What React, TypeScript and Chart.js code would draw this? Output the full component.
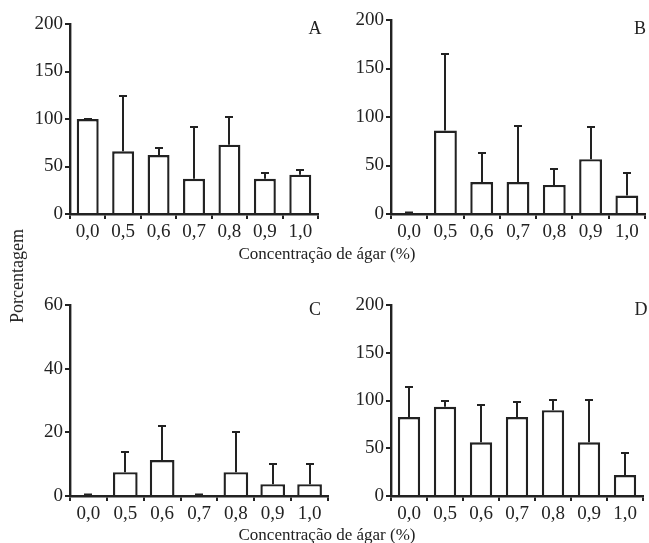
import React, { useEffect, useRef } from 'react';
import { Chart, registerables } from 'chart.js';

Chart.register(...registerables);

const categories = ['0,0', '0,5', '0,6', '0,7', '0,8', '0,9', '1,0'];

const valuesA = [100, 66, 62, 37, 73, 37, 41.4];
const errorsA = [0, 58.2, 7.8, 54.2, 29.5, 5.8, 4.9];

const valuesB = [0, 86, 33, 33, 30, 56.5, 19];
const errorsB = [0, 79, 29.7, 57.6, 16.5, 33, 23];

const valuesC = [0, 7.5, 11.3, 0, 7.5, 3.7, 3.7];
const errorsC = [0, 6.3, 10.8, 0, 12.7, 6.3, 6.3];

const valuesD = [82.6, 93.4, 56.3, 82.6, 89.9, 56.3, 22];
const errorsD = [31.1, 5.6, 39.2, 16, 10.5, 44.1, 22.8];

const xTitle = 'Concentração de ágar (%)';
const yTitle = 'Porcentagem';

const FONT = "'Liberation Serif', 'Times New Roman', serif";
const INK = '#222';

const errorBarPlugin = {
  id: 'errorBars',
  afterDatasetsDraw(chart: any) {
    const errs: number[] = chart.options.plugins.errorBars?.errors || [];
    const ctx = chart.ctx;
    const yScale = chart.scales.y;
    const meta = chart.getDatasetMeta(0);
    const vals = chart.data.datasets[0].data as number[];
    ctx.save();
    ctx.strokeStyle = INK;
    meta.data.forEach((el: any, i: number) => {
      const top = Math.round(yScale.getPixelForValue(vals[i] + (errs[i] || 0)));
      const base = el.y;
      const x = Math.round(el.x);
      ctx.lineWidth = 2;
      ctx.beginPath();
      ctx.moveTo(x, base);
      ctx.lineTo(x, top);
      ctx.stroke();
      ctx.beginPath();
      ctx.lineWidth = vals[i] === 0 ? 3 : 2;
      const capY = vals[i] === 0 ? top - 1 : top;
      ctx.moveTo(x - 4, capY);
      ctx.lineTo(x + 4, capY);
      ctx.stroke();
    });
    ctx.restore();
  },
};

type PanelProps = {
  left: number;
  top: number;
  width: number;
  height: number;
  values: number[];
  errors: number[];
  max: number;
  step: number;
  yWidth: number;
  padTop: number;
  padRight: number;
  barPct: number;
};

function Panel(p: PanelProps) {
  const ref = useRef<HTMLCanvasElement | null>(null);
  useEffect(() => {
    if (!ref.current) return;
    const chart = new Chart(ref.current, {
      type: 'bar',
      data: {
        labels: categories,
        datasets: [
          {
            data: p.values,
            backgroundColor: '#ffffff',
            borderColor: INK,
            borderWidth: 2.4,
            borderSkipped: 'start',
            barPercentage: p.barPct,
            categoryPercentage: 1,
          },
        ],
      },
      options: {
        animation: false,
        responsive: false,
        maintainAspectRatio: false,
        events: [],
        layout: { padding: { top: p.padTop, right: p.padRight, left: 0, bottom: 0 } },
        plugins: {
          legend: { display: false },
          tooltip: { enabled: false },
          title: { display: false },
          errorBars: { errors: p.errors },
        } as any,
        scales: {
          x: {
            offset: true,
            grid: {
              offset: true,
              drawOnChartArea: false,
              drawTicks: true,
              tickLength: 5,
              color: INK,
              lineWidth: 2,
            },
            border: { display: true, color: INK, width: 2.4 },
            ticks: {
              color: INK,
              font: { family: FONT, size: 19 },
              padding: 2,
              maxRotation: 0,
              autoSkip: false,
            },
            afterFit: (s: any) => {
              s.height = 36;
            },
          },
          y: {
            min: 0,
            max: p.max,
            grid: {
              drawOnChartArea: false,
              drawTicks: true,
              tickLength: 5,
              color: INK,
              lineWidth: 2,
            },
            border: { display: true, color: INK, width: 2.4 },
            ticks: {
              stepSize: p.step,
              color: INK,
              font: { family: FONT, size: 19 },
              padding: 2,
            },
            afterFit: (s: any) => {
              s.width = p.yWidth;
            },
          },
        },
      },
      plugins: [errorBarPlugin],
    });
    return () => chart.destroy();
  }, []);
  return (
    <canvas
      ref={ref}
      width={p.width}
      height={p.height}
      style={{ position: 'absolute', left: p.left, top: p.top, width: p.width, height: p.height }}
    />
  );
}

const textStyle = (x: number, y: number, size: number, extra: any = {}) => ({
  position: 'absolute' as const,
  left: x,
  top: y,
  transform: 'translate(-50%, -50%)',
  fontFamily: FONT,
  fontSize: size,
  color: INK,
  whiteSpace: 'nowrap' as const,
  lineHeight: 1,
  ...extra,
});

export default function App() {
  return (
    <div
      style={{
        position: 'fixed',
        left: 0,
        top: 0,
        width: 649,
        height: 543,
        background: '#ffffff',
        overflow: 'hidden',
      }}
    >
      <Panel left={0} top={0} width={330} height={250} values={valuesA} errors={errorsA} max={200} step={50} yWidth={70} padTop={24} padRight={12} barPct={0.62} />
      <Panel left={330} top={0} width={319} height={250} values={valuesB} errors={errorsB} max={200} step={50} yWidth={61} padTop={20} padRight={4} barPct={0.63} />
      <Panel left={0} top={280} width={330} height={252} values={valuesC} errors={errorsC} max={60} step={20} yWidth={70} padTop={25} padRight={2} barPct={0.67} />
      <Panel left={330} top={280} width={319} height={252} values={valuesD} errors={errorsD} max={200} step={50} yWidth={61} padTop={25} padRight={6} barPct={0.62} />

      <div style={textStyle(315, 28, 18)}>A</div>
      <div style={textStyle(640, 28, 18)}>B</div>
      <div style={textStyle(315, 309, 18)}>C</div>
      <div style={textStyle(641, 309, 18)}>D</div>

      <div style={textStyle(327, 253, 17)}>{xTitle}</div>
      <div style={textStyle(327, 534, 17)}>{xTitle}</div>
      <div style={textStyle(17, 276, 18, { transform: 'translate(-50%, -50%) rotate(-90deg)' })}>{yTitle}</div>
    </div>
  );
}
